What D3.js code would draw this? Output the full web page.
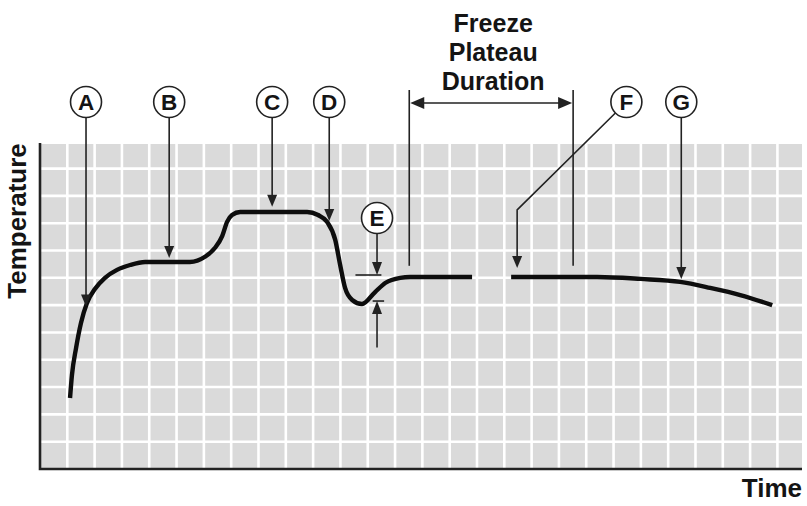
<!DOCTYPE html>
<html>
<head>
<meta charset="utf-8">
<script src="https://cdn.jsdelivr.net/npm/d3@7"></script>
<style>
  body { margin: 0; background: #fff; }
  text { font-family: "Liberation Sans", Arial, sans-serif; font-weight: bold; fill: #141414; }
</style>
</head>
<body>
<svg id="chart" width="807" height="506"></svg>
<script>
// cooling curve, first part (time, temperature in grid units)
var seg1Time = [1.10, 1.17, 1.32, 1.50, 1.72, 2.01, 2.38, 2.82, 3.30, 3.85, 5.49, 6.04, 6.41, 6.67, 6.85, 7.03, 7.33,
                9.78, 10.18, 10.51, 10.81, 10.99, 11.17, 11.43, 11.79, 12.27, 12.64, 13.19, 13.55, 15.82];
var seg1Temp = [2.60, 3.44, 4.43, 5.35, 6.08, 6.59, 7.00, 7.29, 7.47, 7.58, 7.58, 7.77, 8.10, 8.53, 9.05, 9.30, 9.41,
                9.41, 9.30, 9.05, 8.39, 7.47, 6.63, 6.19, 6.04, 6.48, 6.81, 7.00, 7.03, 7.03];
// after the break
var seg2Time = [17.25, 20.40, 21.98, 23.44, 24.54, 25.64, 26.81];
var seg2Temp = [7.03, 7.03, 6.96, 6.85, 6.63, 6.37, 6.00];

// markers: letter, time of arrow, temperature at arrow tip
var markLetters = ["A", "B", "C", "D", "G"];
var markTime = [1.685, 4.73, 8.50, 10.59, 23.48];
var markTip = [5.95, 7.73, 9.60, 9.08, 6.96];

// F marker: circle at fCircle, bends at fBend, tip at fTip
var fCircle = 21.47, fBend = [17.47, 9.49], fTip = 7.36;
// E marker (undercooling)
var eTime = 12.34, eCircleTemp = 9.19, eTop = 7.03, eBottom = 6.15;
// freeze plateau duration
var freezeStart = 13.52, freezeEnd = 19.52, freezeLineBottom = 7.44;
var freezeLabel = ["Freeze", "Plateau", "Duration"];

var svg = d3.select("#chart");
var x = d3.scaleLinear().domain([0, 27.9]).range([40, 802]);
var y = d3.scaleLinear().domain([0, 11.9]).range([469, 144]);

// background + grid
svg.append("rect").attr("x", x(0)).attr("y", y(11.9)).attr("width", x(27.9) - x(0)).attr("height", y(0) - y(11.9)).attr("fill", "#dadada");
svg.append("g").selectAll("line").data(d3.range(1, 28)).enter().append("line")
  .attr("x1", function(d) { return x(d); }).attr("x2", function(d) { return x(d); })
  .attr("y1", y(11.9)).attr("y2", y(0)).attr("stroke", "#fff").attr("stroke-width", 2.6);
svg.append("g").selectAll("line").data(d3.range(1, 12)).enter().append("line")
  .attr("y1", function(d) { return y(d); }).attr("y2", function(d) { return y(d); })
  .attr("x1", x(0)).attr("x2", x(27.9)).attr("stroke", "#fff").attr("stroke-width", 2.6);

// axes
svg.append("path").attr("d", "M" + x(0) + "," + (y(11.9) - 1) + "V" + y(0) + "H" + x(27.9))
  .attr("fill", "none").attr("stroke", "#222").attr("stroke-width", 2.6);

svg.append("text").attr("transform", "translate(26," + 221 + ") rotate(-90)")
  .attr("text-anchor", "middle").attr("font-size", 26).text("Temperature");
svg.append("text").attr("x", 802).attr("y", 497).attr("text-anchor", "end").attr("font-size", 26).text("Time");

// curve
var line = d3.line().x(function(d) { return x(d[0]); }).y(function(d) { return y(d[1]); }).curve(d3.curveMonotoneX);
[[seg1Time, seg1Temp], [seg2Time, seg2Temp]].forEach(function(s) {
  svg.append("path").datum(d3.zip(s[0], s[1])).attr("d", line)
    .attr("fill", "none").attr("stroke", "#0d0d0d").attr("stroke-width", 4.4).attr("stroke-linecap", "butt");
});

var ink = "#222";
function arrow(px, py, dir, w, l) {
  // dir: 1 = pointing down, -1 = pointing up, 2 = left, -2 = right
  var p;
  if (dir === 1) p = [[px, py], [px - w / 2, py - l], [px + w / 2, py - l]];
  else if (dir === -1) p = [[px, py], [px - w / 2, py + l], [px + w / 2, py + l]];
  else if (dir === 2) p = [[px, py], [px + l, py - w / 2], [px + l, py + w / 2]];
  else p = [[px, py], [px - l, py - w / 2], [px - l, py + w / 2]];
  svg.append("path").attr("d", "M" + p.join("L") + "Z").attr("fill", ink);
}
function vline(px, y1, y2) {
  svg.append("line").attr("x1", px).attr("x2", px).attr("y1", y1).attr("y2", y2).attr("stroke", ink).attr("stroke-width", 1.6);
}
function hline(x1, x2, py) {
  svg.append("line").attr("x1", x1).attr("x2", x2).attr("y1", py).attr("y2", py).attr("stroke", ink).attr("stroke-width", 1.6);
}
function bubble(px, py, letter) {
  svg.append("circle").attr("cx", px).attr("cy", py).attr("r", 15.5).attr("fill", "#fff").attr("stroke", ink).attr("stroke-width", 1.6);
  svg.append("text").attr("x", px).attr("y", py + 8).attr("text-anchor", "middle").attr("font-size", 22.5).text(letter);
}

var labelY = 102;
markLetters.forEach(function(l, i) {
  var px = x(markTime[i]), tip = y(markTip[i]);
  vline(px, labelY + 15, tip - 10);
  arrow(px, tip, 1, 10, 12);
  bubble(px, labelY, l);
});

// F
var fx = x(fCircle);
svg.append("path").attr("d", "M" + (fx - 11) + "," + (labelY + 11) + "L" + x(fBend[0]) + "," + y(fBend[1]) + "V" + (y(fTip) - 10))
  .attr("fill", "none").attr("stroke", ink).attr("stroke-width", 1.6);
arrow(x(fBend[0]), y(fTip), 1, 10, 12);
bubble(fx, labelY, "F");

// E
var ex = x(eTime);
hline(x(11.55), x(12.5), y(eTop) - 2);
hline(x(12.18), x(12.6), y(eBottom));
vline(ex, y(eCircleTemp) + 15, y(eTop) - 12);
arrow(ex, y(eTop) - 2, 1, 10, 13);
vline(ex, y(eBottom) + 12, y(4.45));
arrow(ex, y(eBottom), -1, 10, 13);
bubble(ex, y(eCircleTemp), "E");

// freeze plateau duration
var fs = x(freezeStart), fe = x(freezeEnd);
vline(fs, 90, y(freezeLineBottom));
vline(fe, 90, y(freezeLineBottom));
hline(fs + 10, fe - 10, 103);
arrow(fs + 1, 103, 2, 12, 14);
arrow(fe - 1, 103, -2, 12, 14);
svg.append("g").selectAll("text").data(freezeLabel).enter().append("text")
  .attr("x", (fs + fe) / 2 + 2).attr("y", function(d, i) { return 32 + i * 29; })
  .attr("text-anchor", "middle").attr("font-size", 25).text(function(d) { return d; });
</script>
</body>
</html>
